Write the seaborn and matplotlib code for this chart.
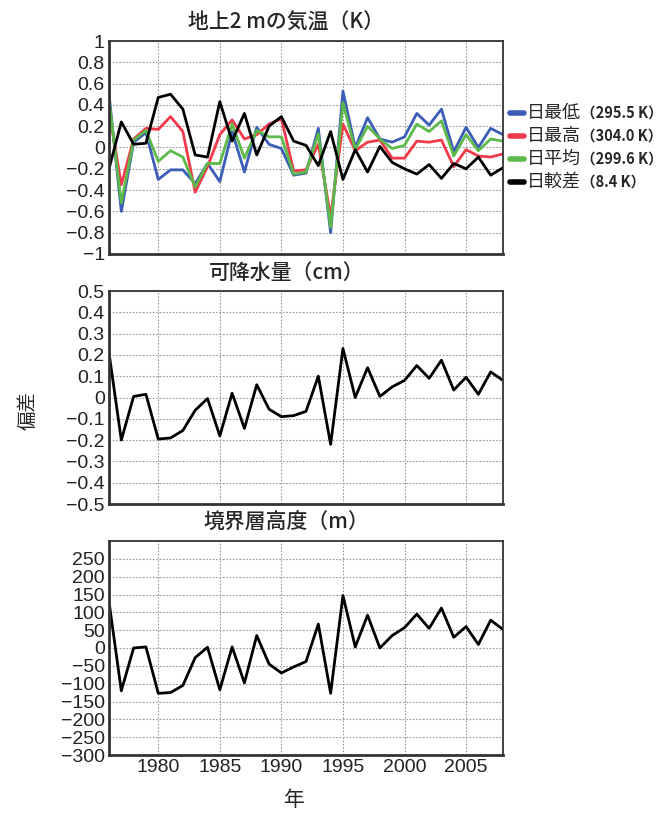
import numpy as np
import pandas as pd
import seaborn as sns
import matplotlib.pyplot as plt

# years
years = list(range(1976, 2009))

# 2m temperature anomalies (K)
tmin = [0.50, -0.60, 0.05, 0.14, -0.30, -0.21, -0.21, -0.34, -0.15, -0.32, 0.15,
        -0.23, 0.19, 0.03, -0.01, -0.26, -0.24, 0.18, -0.80, 0.53, 0.00, 0.28,
        0.08, 0.05, 0.10, 0.32, 0.21, 0.36, -0.04, 0.19, 0.00, 0.18, 0.12]
tmax = [0.35, -0.35, 0.08, 0.18, 0.17, 0.29, 0.15, -0.42, -0.18, 0.12, 0.26,
        0.08, 0.12, 0.22, 0.27, -0.22, -0.21, 0.03, -0.65, 0.22, -0.03, 0.05,
        0.07, -0.10, -0.10, 0.06, 0.05, 0.07, -0.18, -0.02, -0.08, -0.09, -0.06]
tmean = [0.45, -0.52, 0.07, 0.16, -0.13, -0.03, -0.09, -0.37, -0.15, -0.15, 0.22,
         -0.10, 0.16, 0.10, 0.10, -0.25, -0.23, 0.13, -0.75, 0.42, -0.02, 0.20,
         0.08, -0.01, 0.02, 0.22, 0.15, 0.25, -0.08, 0.12, -0.03, 0.08, 0.06]
trange = [-0.20, 0.24, 0.03, 0.04, 0.47, 0.50, 0.36, -0.07, -0.09, 0.43, 0.06,
          0.32, -0.07, 0.20, 0.29, 0.06, 0.02, -0.17, 0.15, -0.30, -0.02, -0.23,
          0.01, -0.14, -0.20, -0.25, -0.16, -0.29, -0.15, -0.20, -0.09, -0.26, -0.19]

# precipitable water anomaly (cm)
pw = [0.21, -0.20, 0.005, 0.015, -0.195, -0.19, -0.155, -0.06, -0.005, -0.18, 0.02,
      -0.145, 0.06, -0.055, -0.09, -0.085, -0.065, 0.10, -0.22, 0.23, 0.0, 0.14,
      0.005, 0.05, 0.08, 0.15, 0.09, 0.175, 0.035, 0.095, 0.015, 0.12, 0.08]

# boundary layer height anomaly (m)
blh = [130, -120, 0, 3, -127, -125, -105, -27, 2, -117, 3, -98, 35, -45, -70, -53,
       -38, 67, -127, 147, 3, 92, 0, 35, 57, 95, 55, 112, 30, 60, 10, 78, 52]

names = ['日最低', '日最高', '日平均', '日較差']
means = ['（295.5 K）', '（304.0 K）', '（299.6 K）', '（8.4 K）']
colors = ['#3b5db8', '#f03a4c', '#5dba4a', '#000000']

jp = ['Noto Sans CJK JP', 'DejaVu Sans']

sns.set_style('white')
plt.rcParams['font.family'] = ['Liberation Sans', 'DejaVu Sans']

df_t = pd.DataFrame({'year': years * 4,
                     'value': tmin + tmax + tmean + trange,
                     'series': np.repeat(names, len(years))})
df_pw = pd.DataFrame({'year': years, 'value': pw})
df_blh = pd.DataFrame({'year': years, 'value': blh})

fig = plt.figure(figsize=(6.68, 8.13), dpi=100)
ax1 = fig.add_axes([109/668, 1-254/813, 394/668, 213/813])
ax2 = fig.add_axes([109/668, 1-504/813, 394/668, 213/813])
ax3 = fig.add_axes([109/668, 1-755/813, 394/668, 214/813])

sns.lineplot(data=df_t, x='year', y='value', hue='series', palette=colors,
             linewidth=2, ax=ax1, legend=False)
sns.lineplot(data=df_pw, x='year', y='value', color='black', linewidth=2, ax=ax2)
sns.lineplot(data=df_blh, x='year', y='value', color='black', linewidth=2, ax=ax3)

ax1.set_ylim(-1, 1)
ax1.set_yticks(np.arange(-1, 1.01, 0.2))
ax1.set_yticklabels(['−1', '−0.8', '−0.6', '−0.4', '−0.2', '0', '0.2', '0.4', '0.6', '0.8', '1'])
ax2.set_ylim(-0.5, 0.5)
ax2.set_yticks(np.arange(-0.5, 0.51, 0.1))
ax2.set_yticklabels(['−0.5', '−0.4', '−0.3', '−0.2', '−0.1', '0', '0.1', '0.2', '0.3', '0.4', '0.5'])
ax3.set_ylim(-300, 300)
ax3.set_yticks(np.arange(-300, 251, 50))

titles = ['地上2 mの気温（K）', '可降水量（cm）', '境界層高度（m）']
for ax, t in zip([ax1, ax2, ax3], titles):
    ax.set_xlim(1976, 2008)
    ax.set_xticks([1980, 1985, 1990, 1995, 2000, 2005])
    ax.grid(True, color='#999999', linestyle=(0, (1.5, 1.5)), linewidth=0.8)
    ax.set_xlabel('')
    ax.set_ylabel('')
    ax.set_title(t, family=jp, fontsize=15, fontweight='medium', pad=9, x=0.45)
    ax.tick_params(axis='both', direction='in', length=3, width=1.2,
                   labelsize=14, colors='#222222', pad=3)
    for s in ax.spines.values():
        s.set_color('#333333')
        s.set_linewidth(1.3)
    ax.spines['left'].set_linewidth(2)
    ax.spines['bottom'].set_linewidth(2)

ax1.tick_params(axis='x', labelbottom=False)
ax2.tick_params(axis='x', labelbottom=False)

# legend outside on the right, name plus smaller bold mean value
fig.canvas.draw()
renderer = fig.canvas.get_renderer()
for i, (nm, mv, c) in enumerate(zip(names, means, colors)):
    y = 1 - (113 + i * 23) / 813
    fig.add_artist(plt.Line2D([510/668, 524/668], [y, y], color=c, linewidth=4))
    t1 = fig.text(527/668, y, nm, va='center', ha='left', fontsize=13, family=jp)
    w = t1.get_window_extent(renderer).width
    fig.text(527/668 + w/668, y, mv, va='center', ha='left', fontsize=10.5,
             family=jp, fontweight='bold')

fig.text(28/668, 1-410/813, '偏差', rotation=90, family=jp, fontsize=14,
         va='center', ha='center')
fig.text(294/668, 1-800/813, '年', family=jp, fontsize=15, va='center', ha='center')

fig.savefig('out.png', dpi=100)
